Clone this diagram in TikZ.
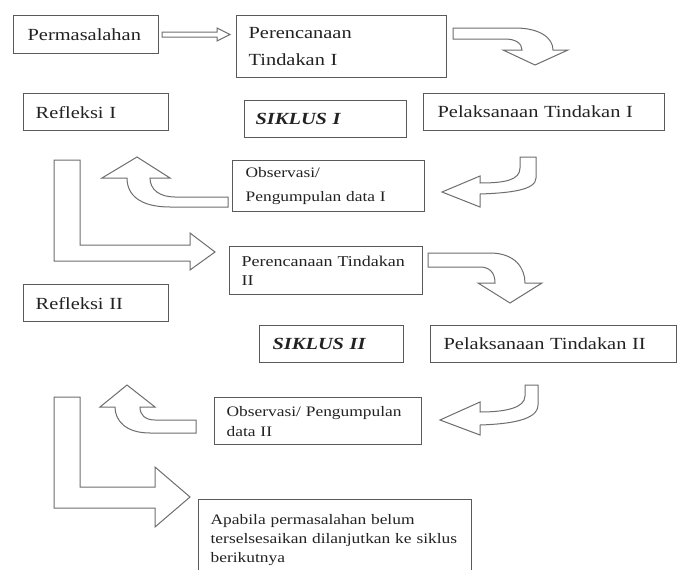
\documentclass[tikz,border=0pt]{standalone}
\usepackage{fontspec}
\setmainfont{Liberation Serif}[FakeStretch=1.2]
\definecolor{boxc}{HTML}{5A5A5A}
\definecolor{arrc}{HTML}{6E6E6E}
\definecolor{txt}{HTML}{222222}
\begin{document}
\begin{tikzpicture}[x=1pt,y=-1pt,
  box/.style={draw=boxc, line width=1.3pt, fill=white, inner ysep=0pt, align=left, anchor=north west, text=txt},
  blockarrow/.style={draw=arrc, line width=1pt, fill=white, line join=miter},
  big/.style={font=\fontsize{17}{20}\selectfont},
]
\useasboundingbox (0,0) rectangle (678,570);
\clip (0,0) rectangle (678,570);
\fill[white] (0,0) rectangle (678,570);

% boxes
\node[box, big, inner xsep=14pt, text width=117pt, minimum height=38pt] (perm) at (13,15) {Permasalahan};
\node[box, inner xsep=12pt, text width=186pt, minimum height=62pt, font=\fontsize{17}{27}\selectfont] (ren1) at (236,15) {Perencanaan\\Tindakan I};
\node[box, big, inner xsep=12pt, text width=121pt, minimum height=37pt] (ref1) at (23,93) {Refleksi I};
\node[box, big, inner xsep=11pt, text width=140pt, minimum height=37pt] (sik1) at (244,100) {\textbf{\textit{SIKLUS I}}};
\node[box, big, inner xsep=14pt, text width=213pt, minimum height=37pt] (pel1) at (423,93) {Pelaksanaan Tindakan I};
\node[box, inner xsep=13pt, text width=166pt, minimum height=51pt, font=\fontsize{14.5}{24}\selectfont] (obs1) at (232,160) {Observasi/\\Pengumpulan data I};
\node[box, inner xsep=12pt, text width=169pt, minimum height=48pt, font=\fontsize{15}{19}\selectfont] (ren2) at (229,246) {Perencanaan Tindakan\\II};
\node[box, big, inner xsep=12pt, text width=121pt, minimum height=37pt] (ref2) at (23,284) {Refleksi II};
\node[box, big, inner xsep=13pt, text width=118pt, minimum height=37pt] (sik2) at (259,325) {\textbf{\textit{SIKLUS II}}};
\node[box, big, inner xsep=13pt, text width=220pt, minimum height=37pt] (pel2) at (430,325) {Pelaksanaan Tindakan II};
\node[box, inner xsep=12pt, text width=183pt, minimum height=47pt, font=\fontsize{14.5}{20}\selectfont] (obs2) at (214,397) {Observasi/ Pengumpulan\\data II};
\node[box, inner xsep=12pt, text width=249pt, minimum height=80pt, font=\fontsize{14.5}{19}\selectfont] (apa) at (198,499) {Apabila permasalahan belum\\terselsesaikan dilanjutkan ke siklus\\berikutnya};

% A: Permasalahan -> Perencanaan I (thin block arrow)
\draw[blockarrow] (162,32) -- (217,32) -- (217,28) -- (230,34.5) -- (217,41) -- (217,37) -- (162,37) -- cycle;

% B: Perencanaan I -> Pelaksanaan I (curved down)
\draw[blockarrow] (453,28) -- (515,28) .. controls (540,28) and (553,38) .. (553,50)
  -- (568,50) -- (535,65) -- (503,50) -- (522,50)
  .. controls (522,43) and (515,39) .. (505,39) -- (453,39) -- cycle;

% C: Pelaksanaan I -> Observasi I (curved left)
\draw[blockarrow] (520,157) -- (536,157) -- (536,178) .. controls (536,190) and (510,193) .. (480,194)
  -- (480,207) -- (442,192) -- (480,176) -- (480,183)
  .. controls (505,183) and (520,180) .. (520,168) -- cycle;

% D: Observasi I -> Refleksi I (curved up)
\draw[blockarrow] (228,197) -- (228,207) -- (170,207) .. controls (140,207) and (127,195) .. (127,178)
  -- (102,178) -- (137,157) -- (170,178) -- (150,178)
  .. controls (150,190) and (160,197) .. (175,197) -- cycle;

% E: Refleksi I -> Perencanaan II (L-shaped)
\draw[blockarrow] (54,160) -- (80,160) -- (80,245) -- (190,245) -- (190,233) -- (215,252)
  -- (190,270) -- (190,261) -- (54,261) -- cycle;

% F: Perencanaan II -> Pelaksanaan II (curved down)
\draw[blockarrow] (428,253) -- (490,253) .. controls (515,253) and (525,268) .. (525,283)
  -- (542,283) -- (510,303) -- (478,283) -- (495,283)
  .. controls (495,273) and (490,267) .. (480,267) -- (428,267) -- cycle;

% G: Pelaksanaan II -> Observasi II (curved left)
\draw[blockarrow] (525,385) -- (538,385) -- (538,405) .. controls (538,420) and (510,424) .. (480,425)
  -- (480,435) -- (440,420) -- (480,402) -- (480,412)
  .. controls (505,412) and (525,408) .. (525,396) -- cycle;

% H: Observasi II -> Refleksi II (curved up)
\draw[blockarrow] (196,420) -- (196,433) -- (150,433) .. controls (125,433) and (115,420) .. (115,407)
  -- (100,407) -- (127,385) -- (155,407) -- (140,407)
  .. controls (140,415) and (145,420) .. (155,420) -- cycle;

% I: Refleksi II -> Apabila (L-shaped)
\draw[blockarrow] (54,397) -- (80,397) -- (80,487) -- (155,487) -- (155,467) -- (190,497)
  -- (155,527) -- (155,508) -- (54,508) -- cycle;
\end{tikzpicture}
\end{document}
